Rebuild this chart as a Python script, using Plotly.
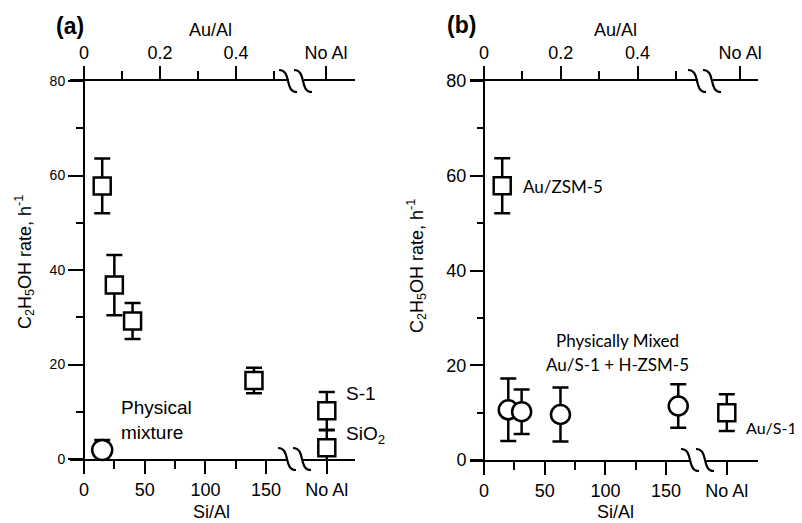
import plotly.graph_objects as go

# page body has an 8px default margin; the figure is sized so it ends at the window edge
OFF = 8
W, H = 802 - OFF, 523 - OFF

# ---------------- data ----------------
# panel (a): Au/ZSM-5 series (Si/Al), "No Al" placed at 200
a_sq_x = [15, 25, 40, 140, 200, 200]
a_sq_y = [57.8, 36.8, 29.2, 16.6, 10.2, 2.4]
a_sq_err = [5.8, 6.4, 3.8, 2.7, 4.0, 3.7]
a_circ_x = [15]
a_circ_y = [1.9]
a_circ_err = [2.1]

# panel (b)
b_sq_x = [15, 200]
b_sq_y = [57.9, 10.0]
b_sq_err = [5.8, 3.9]
b_circ_x = [20, 31, 63, 160]
b_circ_y = [10.6, 10.2, 9.6, 11.4]
b_circ_err = [6.6, 4.7, 5.7, 4.6]

si_tickvals = [0, 50, 100, 150, 200]
si_ticktext = ["0", "50", "100", "150", "No Al"]
si_minor = [25, 75, 125]
y_tickvals = [0, 20, 40, 60, 80]
y_minor = [10, 30, 50, 70]
au_ticks_a = [0, 0.2, 0.4, 0.637]
au_ticks_b = [0, 0.2, 0.4, 0.667]
au_ticktext = ["0", "0.2", "0.4", "No Al"]
au_minor = [0.1, 0.3, 0.5]

FONT = "Liberation Sans"
CAL = "Lato"

def px(x):
    return (x - OFF) / W

def py(y):
    return 1 - (y - OFF) / H

SI_PX = 60.7 / 50.0  # px per Si/Al unit

fig = go.Figure()

sq_marker = dict(symbol="square", size=17, color="white", line=dict(color="black", width=2.5))
ci_marker = dict(symbol="circle", size=19, color="white", line=dict(color="black", width=2.5))
err = lambda arr: dict(type="data", array=arr, visible=True, color="black", thickness=2.5, width=8)

fig.add_trace(go.Scatter(x=a_sq_x, y=a_sq_y, mode="markers", marker=sq_marker,
                         error_y=err(a_sq_err), xaxis="x", yaxis="y", showlegend=False))
fig.add_trace(go.Scatter(x=a_circ_x, y=a_circ_y, mode="markers", marker=dict(ci_marker, size=20),
                         error_y=err(a_circ_err), xaxis="x", yaxis="y", showlegend=False,
                         cliponaxis=False))
fig.add_trace(go.Scatter(x=[], y=[], xaxis="x2", yaxis="y", showlegend=False))

fig.add_trace(go.Scatter(x=b_circ_x, y=b_circ_y, mode="markers", marker=ci_marker,
                         error_y=err(b_circ_err), xaxis="x3", yaxis="y3", showlegend=False))
fig.add_trace(go.Scatter(x=b_sq_x, y=b_sq_y, mode="markers", marker=sq_marker,
                         error_y=err(b_sq_err), xaxis="x3", yaxis="y3", showlegend=False))
fig.add_trace(go.Scatter(x=[], y=[], xaxis="x4", yaxis="y3", showlegend=False))

common = dict(showline=True, linecolor="black", linewidth=2, ticks="outside",
              tickcolor="black", tickwidth=2, showgrid=False, zeroline=False,
              automargin=False,
              tickfont=dict(family=FONT, size=18, color="black"))

def minor(vals, ln):
    return dict(tickvals=vals, ticklen=ln, tickwidth=2, ticks="outside", tickcolor="black")

# panel geometry (pixels of the 802x523 window)
ax0, ax1, a_y0 = 70, 355, 84
bx0, bx1, b_y0 = 470, 758, 484

layout = dict(
    template="none",
    width=W, height=H, margin=dict(l=0, r=0, t=0, b=0, autoexpand=False),
    plot_bgcolor="white", paper_bgcolor="white",
    font=dict(family=FONT, size=18, color="black"),
    xaxis=dict(common, domain=[px(ax0), px(ax1)], anchor="y",
               range=[(ax0 - a_y0) / SI_PX, (ax1 - a_y0) / SI_PX],
               tickmode="array", tickvals=si_tickvals, ticktext=si_ticktext,
               ticklen=13, minor=minor(si_minor, 8)),
    xaxis2=dict(common, overlaying="x", anchor="y", side="top",
                range=[(ax0 - a_y0) / 380.0, (ax1 - a_y0) / 380.0],
                tickmode="array", tickvals=au_ticks_a, ticktext=au_ticktext,
                ticklen=13, minor=minor(au_minor, 8)),
    yaxis=dict(common, domain=[py(459), py(81)], anchor="free", position=px(a_y0),
               range=[0, 80], tickmode="array", tickvals=y_tickvals, ticklen=15,
               tickfont=dict(family=FONT, size=14, color="black"),
               minor=minor(y_minor, 7)),
    xaxis3=dict(common, domain=[px(bx0), px(bx1)], anchor="y3",
                range=[(bx0 - b_y0) / SI_PX, (bx1 - b_y0) / SI_PX],
                tickmode="array", tickvals=si_tickvals, ticktext=si_ticktext,
                ticklen=13, minor=minor(si_minor, 8)),
    xaxis4=dict(common, overlaying="x3", anchor="y3", side="top",
                range=[(bx0 - b_y0) / 384.0, (bx1 - b_y0) / 384.0],
                tickmode="array", tickvals=au_ticks_b, ticktext=au_ticktext,
                ticklen=13, minor=minor(au_minor, 8)),
    yaxis3=dict(common, domain=[py(460), py(81)], anchor="free", position=px(b_y0),
                range=[0, 80], tickmode="array", tickvals=y_tickvals, ticklen=13,
                minor=minor(y_minor, 6)),
)
fig.update_layout(**layout)

# ---------------- axis breaks (paper coordinates, not clipped) ----------------
def break_shapes(cxp, cyp):
    """cxp, cyp: centre of the break in window pixels."""
    def P(dx, dy):
        return px(cxp + dx), py(cyp + dy)
    shapes = []
    x0, y0 = P(-7, 2.5)
    x1, y1 = P(8, -2.5)
    shapes.append(dict(type="rect", xref="paper", yref="paper", x0=x0, y0=y0, x1=x1, y1=y1,
                       fillcolor="white", line=dict(width=0), layer="above"))
    for off in (-8, 7):
        p0 = P(off - 9, -11); p1 = P(off + 4, -11); p2 = P(off - 4, 11); p3 = P(off + 9, 11)
        path = f"M {p0[0]},{p0[1]} C {p1[0]},{p1[1]} {p2[0]},{p2[1]} {p3[0]},{p3[1]}"
        shapes.append(dict(type="path", xref="paper", yref="paper", path=path,
                           line=dict(color="black", width=2.2), layer="above"))
    return shapes

shapes = []
shapes += break_shapes(295, 459)
shapes += break_shapes(296, 81)
shapes += break_shapes(698, 460)
shapes += break_shapes(705, 81)
fig.update_layout(shapes=shapes)

# ---------------- text ----------------
def ann(text, x, y, size=18, family=FONT, xanchor="center", yanchor="middle", angle=0, bold=False):
    return dict(text=f"<b>{text}</b>" if bold else text, x=px(x), y=py(y), xref="paper", yref="paper",
                showarrow=False, xanchor=xanchor, yanchor=yanchor, textangle=angle,
                font=dict(family=family, size=size, color="black"))

ytitle = "C<sub>2</sub>H<sub>5</sub>OH rate, h<sup>-1</sup>"
anns = [
    ann("(a)", 70, 26, size=23, bold=True),
    ann("(b)", 461, 25, size=23, bold=True),
    ann("Au/Al", 210, 30),
    ann("Au/Al", 615, 30),
    ann("Si/Al", 211, 512),
    ann("Si/Al", 615, 512),
    ann(ytitle, 24, 262, angle=-90),
    ann(ytitle, 416, 266, angle=-90),
    ann("S-1", 344, 393, size=19, xanchor="left"),
    ann("SiO<sub>2</sub>", 344, 435, size=19, xanchor="left"),
    ann("Physical", 119, 407, size=19, xanchor="left"),
    ann("mixture", 119, 432, size=19, xanchor="left"),
    ann("Au/ZSM-5", 521, 186, size=17, family=CAL, xanchor="left"),
    ann("Physically Mixed", 617, 340, size=17, family=CAL),
    ann("Au/S-1 + H-ZSM-5", 617, 364, size=17, family=CAL),
    ann("Au/S-1", 744, 427, size=16, family=CAL, xanchor="left"),
]
fig.update_layout(annotations=anns)

fig.write_html("out.html")
